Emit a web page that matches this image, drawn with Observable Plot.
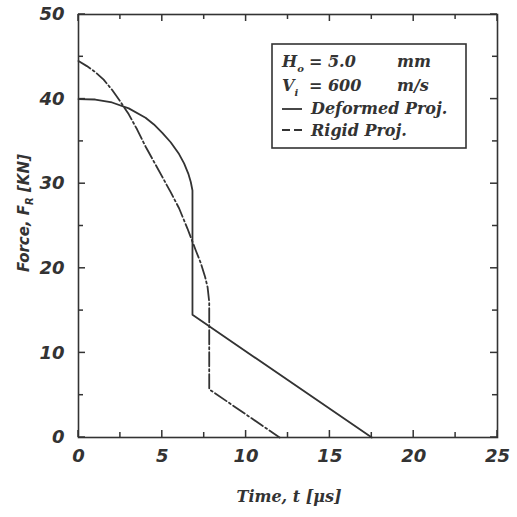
<!DOCTYPE html>
<html>
<head>
<meta charset="utf-8">
<script src="https://cdn.jsdelivr.net/npm/d3@7"></script>
<script src="https://cdn.jsdelivr.net/npm/@observablehq/plot@0.6"></script>
<style>
  html, body { margin: 0; padding: 0; background: #fff; }
  #chart { position: relative; width: 517px; height: 517px; }
</style>
</head>
<body>
<div id="chart"></div>
<script>
// Deformed projectile (solid)
const deformedT = [0, 1, 2, 3, 4, 4.5, 5, 5.5, 6, 6.3, 6.55, 6.7, 6.8, 6.8, 17.5];
const deformedF = [40, 39.95, 39.6, 38.9, 37.8, 37.0, 36.0, 34.9, 33.5, 32.4, 31.2, 30.2, 29.2, 14.5, 0];
// Rigid projectile (dash-dot)
const rigidT = [0, 0.5, 1, 1.5, 2, 2.5, 3, 3.5, 4, 4.5, 5, 5.5, 6, 6.5, 7, 7.3, 7.55, 7.7, 7.8, 7.8, 12];
const rigidF = [44.5, 43.9, 43.2, 42.3, 41.1, 39.7, 38.2, 36.4, 34.4, 32.6, 30.8, 29, 27.1, 24.7, 22.1, 20.6, 19, 17.8, 16, 5.7, 0];

const xTicks = [0, 5, 10, 15, 20, 25];
const xMinor = [2.5, 7.5, 12.5, 17.5, 22.5];
const yTicks = [0, 10, 20, 30, 40, 50];
const yMinor = [5, 15, 25, 35, 45];

const deformed = deformedT.map((t, i) => ({t, f: deformedF[i]}));
const rigid = rigidT.map((t, i) => ({t, f: rigidF[i]}));

const ink = "#333";
const W = 517, H = 517;
const mL = 78, mR = 20, mT = 14, mB = 80;
const major = 7, minor = 5;

const plot = Plot.plot({
  width: W, height: H,
  marginLeft: mL, marginRight: mR, marginTop: mT, marginBottom: mB,
  style: {fontFamily: "'DejaVu Sans', sans-serif", fontStyle: "italic", fontWeight: "bold", fontSize: "18px", color: ink, background: "#fff"},
  x: {domain: [0, 25]},
  y: {domain: [0, 50]},
  marks: [
    Plot.frame({stroke: ink, strokeWidth: 1.6}),
    Plot.axisX({ticks: xTicks, tickSize: 0, tickPadding: 12, label: null, fill: ink}),
    Plot.axisY({ticks: yTicks, tickSize: 0, tickPadding: 14, label: null, fill: ink}),
    Plot.line(deformed, {x: "t", y: "f", stroke: ink, strokeWidth: 1.8}),
    Plot.line(rigid, {x: "t", y: "f", stroke: ink, strokeWidth: 1.8, strokeDasharray: "14,3,2,3"})
  ]
});

document.getElementById("chart").appendChild(plot);

const svg = d3.select(plot);
const sx = plot.scale("x"), sy = plot.scale("y");
const x0 = sx.apply(0), x1 = sx.apply(25), y0 = sy.apply(0), y1 = sy.apply(50);

// inward ticks on all four sides, positioned with Plot's scales
const tg = svg.append("g").attr("stroke", ink).attr("stroke-width", 1.5);
function xt(v, len) {
  const px = sx.apply(v);
  tg.append("line").attr("x1", px).attr("x2", px).attr("y1", y0).attr("y2", y0 - len);
  tg.append("line").attr("x1", px).attr("x2", px).attr("y1", y1).attr("y2", y1 + len);
}
function yt(v, len) {
  const py = sy.apply(v);
  tg.append("line").attr("y1", py).attr("y2", py).attr("x1", x0).attr("x2", x0 + len);
  tg.append("line").attr("y1", py).attr("y2", py).attr("x1", x1).attr("x2", x1 - len);
}
xTicks.forEach(v => xt(v, major));
xMinor.forEach(v => xt(v, minor));
yTicks.forEach(v => yt(v, major));
yMinor.forEach(v => yt(v, minor));

const serif = "'DejaVu Serif', serif";

// x-axis label
svg.append("text")
  .attr("x", 289).attr("y", 502)
  .attr("text-anchor", "middle")
  .attr("font-family", serif).attr("font-size", 16)
  .attr("font-style", "italic").attr("font-weight", "bold").attr("fill", ink)
  .text("Time, t [μs]");

// y-axis label
const yl = svg.append("text")
  .attr("transform", "translate(29,213) rotate(-90)")
  .attr("text-anchor", "middle")
  .attr("font-family", "'DejaVu Sans', sans-serif").attr("font-size", 15)
  .attr("font-style", "italic").attr("font-weight", "bold").attr("fill", ink);
yl.append("tspan").text("Force, F");
yl.append("tspan").attr("font-size", 10).attr("dy", 4).text("R");
yl.append("tspan").attr("dy", -4).text(" [KN]");

// legend box
const lg = svg.append("g").attr("font-family", serif).attr("font-size", 16)
  .attr("font-style", "italic").attr("font-weight", "bold").attr("fill", ink)
  .attr("text-anchor", "start");
lg.append("rect").attr("x", 272).attr("y", 44).attr("width", 194).attr("height", 104)
  .attr("fill", "#fff").attr("stroke", ink).attr("stroke-width", 1.6);

const l1 = lg.append("text").attr("y", 67);
l1.append("tspan").attr("x", 282).text("H");
l1.append("tspan").attr("font-size", 10).attr("dy", 5).text("o");
l1.append("tspan").attr("dy", -5).attr("x", 309).text("= 5.0");
l1.append("tspan").attr("x", 397).text("mm");

const l2 = lg.append("text").attr("y", 91);
l2.append("tspan").attr("x", 282).text("V");
l2.append("tspan").attr("font-size", 10).attr("dy", 5).text("i");
l2.append("tspan").attr("dy", -5).attr("x", 309).text("= 600");
l2.append("tspan").attr("x", 397).text("m/s");

lg.append("line").attr("x1", 282).attr("x2", 302).attr("y1", 109).attr("y2", 109)
  .attr("stroke", ink).attr("stroke-width", 1.8);
lg.append("text").attr("x", 311).attr("y", 114).text("Deformed Proj.");

lg.append("line").attr("x1", 282).attr("x2", 302).attr("y1", 130).attr("y2", 130)
  .attr("stroke", ink).attr("stroke-width", 1.8).attr("stroke-dasharray", "8,4");
lg.append("text").attr("x", 311).attr("y", 136).text("Rigid Proj.");
</script>
</body>
</html>
